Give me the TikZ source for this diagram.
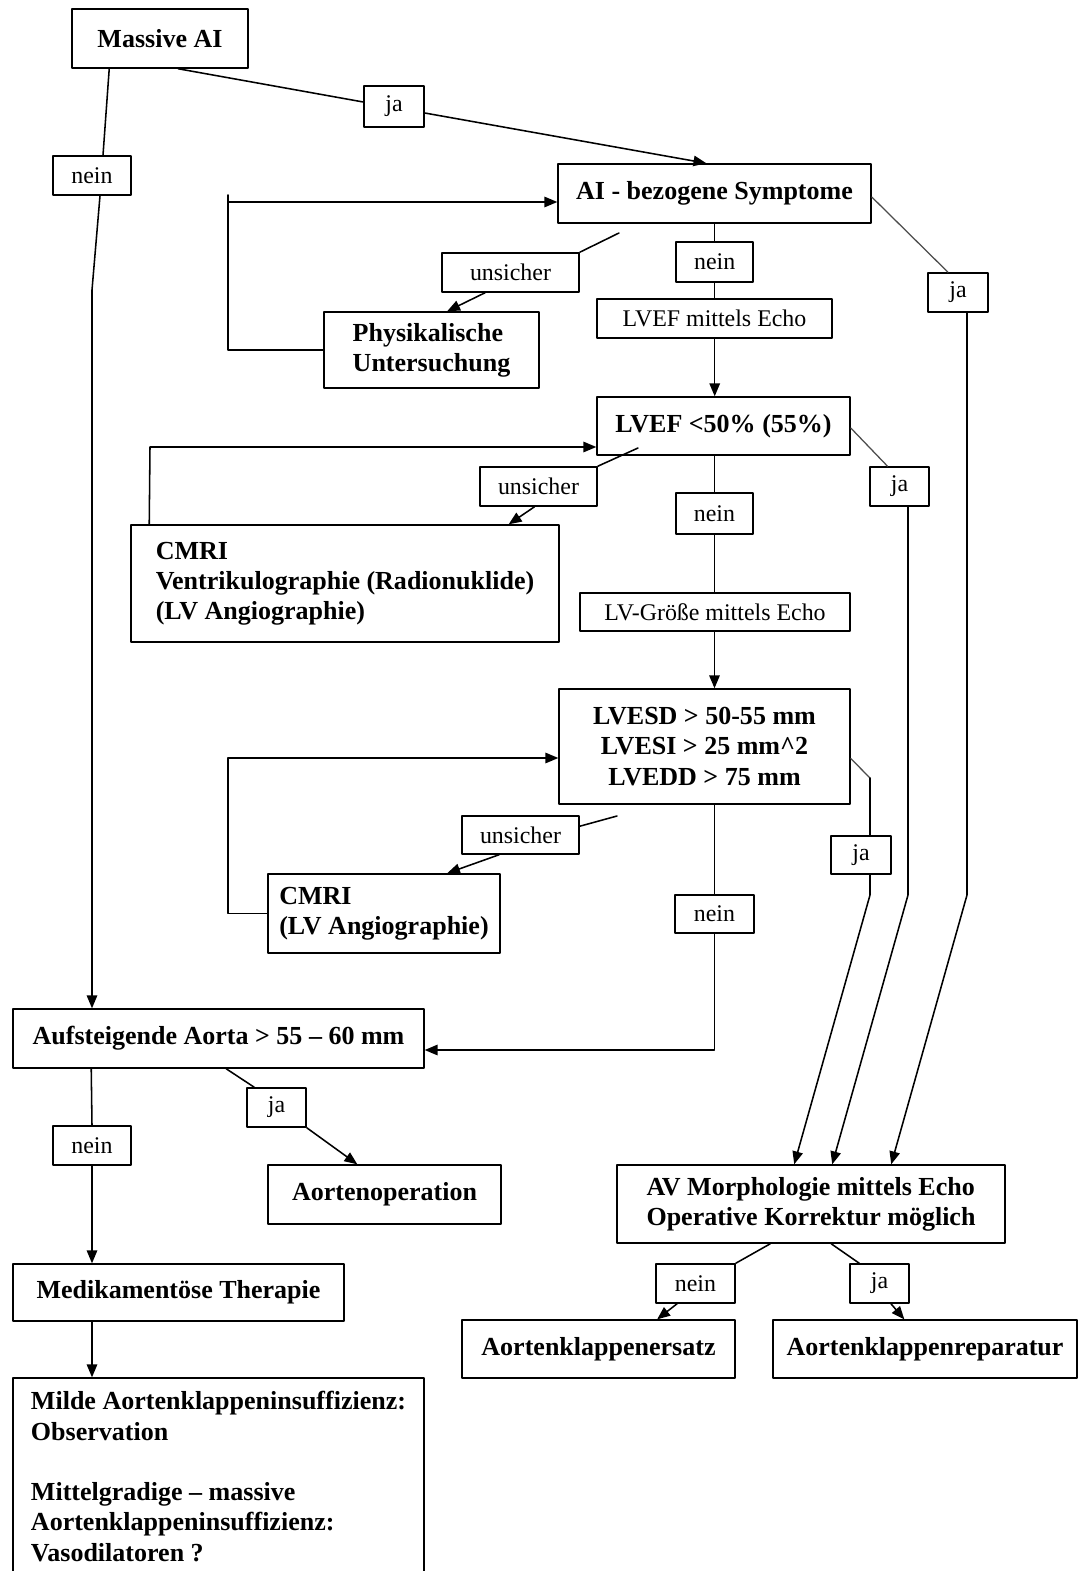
\documentclass[tikz,border=0pt]{standalone}
\usepackage{fontspec}
\setmainfont{Liberation Serif}
\usetikzlibrary{arrows,calc}

\begin{document}
\begin{tikzpicture}[x=0.025cm,y=-0.025cm,line cap=round,line join=round,>=triangle 45,
  box/.style={draw,line width=1.1pt,inner sep=0pt,align=center,font=\fontsize{18.5}{21.5}\selectfont\bfseries},
  lbl/.style={draw,line width=1.1pt,inner sep=0pt,font=\fontsize{17}{20}\selectfont},
  sz/.style 2 args={minimum width=#1*0.025cm,minimum height=#2*0.025cm},
  con/.style={line width=1.1pt},
  grey/.style={line width=0.9pt,draw=black!70}]
\useasboundingbox (0,0) rectangle (1080,1571);
\node[box,sz={176}{59}] (massive) at (160,38.5) {Massive AI};
\node[lbl,sz={60}{41}] (ja1) at (394,106.5) {ja};
\node[lbl,sz={78}{39}] (nein1) at (92,175.5) {nein};
\node[box,sz={313}{59}] (symp) at (714.5,193.5) {AI - bezogene Symptome};
\node[lbl,sz={137}{39}] (uns1) at (510.5,272.5) {unsicher};
\node[box,sz={215}{76},align=left] (phys) at (431.5,350) {Physikalische\\Untersuchung};
\node[lbl,sz={77}{40}] (nein2) at (714.7,262) {nein};
\node[lbl,sz={235}{39}] (lvefecho) at (714.5,318.5) {LVEF mittels Echo};
\node[lbl,sz={60}{39}] (ja2) at (958,292.5) {ja};
\node[box,sz={253}{58}] (lvef) at (723.5,426) {LVEF <50\% (55\%)};
\node[lbl,sz={117}{39}] (uns2) at (538.5,486.5) {unsicher};
\node[lbl,sz={77}{41}] (nein3) at (714.5,513.5) {nein};
\node[lbl,sz={59}{39}] (ja3) at (899.5,486.5) {ja};
\node[box,sz={428}{117},align=left] (cmri1) at (345,583.5) {CMRI\\Ventrikulographie (Radionuklide)\\(LV Angiographie)};
\node[lbl,sz={270}{38}] (lvgr) at (715,612) {LV-Größe mittels Echo};
\node[box,sz={291}{115}] (lvesd) at (704.5,746.5) {LVESD > 50-55 mm\\LVESI > 25 mm\textasciicircum 2\\LVEDD > 75 mm};
\node[lbl,sz={117}{38}] (uns3) at (520.5,835) {unsicher};
\node[lbl,sz={60}{38}] (ja4) at (861,855) {ja};
\node[box,sz={232}{79},align=left] (cmri2) at (384,913.5) {CMRI\\(LV Angiographie)};
\node[lbl,sz={79}{38}] (nein4) at (714.5,914) {nein};
\node[box,sz={411}{59}] (aorta) at (218.5,1038.5) {Aufsteigende Aorta > 55 – 60 mm};
\node[lbl,sz={59}{39}] (ja5) at (276.5,1107.5) {ja};
\node[lbl,sz={78}{39}] (nein5) at (92,1145.5) {nein};
\node[box,sz={233}{59}] (aortop) at (384.5,1194.5) {Aortenoperation};
\node[box,sz={388}{78},align=left] (avmorph) at (811,1204) {AV Morphologie mittels Echo\\Operative Korrektur möglich};
\node[box,sz={331}{57}] (medi) at (178.5,1292.5) {Medikamentöse Therapie};
\node[lbl,sz={79}{39}] (nein6) at (695.5,1283.5) {nein};
\node[lbl,sz={59}{39}] (ja6) at (879.5,1283.5) {ja};
\node[box,sz={273}{58}] (ersatz) at (598.5,1349) {Aortenklappenersatz};
\node[box,sz={304}{58}] (repar) at (925,1349) {Aortenklappenreparatur};
\node[box,sz={411}{197},align=left] (milde) at (218.5,1476.5) {Milde Aortenklappeninsuffizienz:\\Observation\\[21.5pt]Mittelgradige – massive\\Aortenklappeninsuffizienz:\\Vasodilatoren ?};
\coordinate (k1) at (92,290);
\coordinate (l1) at (228,195);
\coordinate (d1) at (619,233);
\coordinate (r1) at (967,895);
\coordinate (l2) at (150,447);
\coordinate (d2) at (638,448);
\coordinate (r2) at (908,895);
\coordinate (l3) at (228,758);
\coordinate (d3) at (617,816);
\coordinate (s3) at (870,778);
\coordinate (r3) at (870,895);
\coordinate (b1) at (714.5,1050);
\draw[con] ($(massive.south west)+(38,0)$) -- ($(nein1.north)+(11,0)$);
\draw[con,->] ($(nein1.south)+(8,0)$) -- (k1) -- (k1 |- aorta.north);
\draw[con] ($(massive.south west)+(107,0)$) -- ($(ja1.west)+(0,-4.5)$);
\draw[con,->] ($(ja1.east)+(0,6.5)$) -- ($(symp.north west)+(149,0)$);
\draw[con] (phys.west) -- (phys.west -| l1) -- (l1);
\draw[con,->] ($(l1)+(0,7)$) -- ($(symp.west)+(0,8.5)$);
\draw[con] (d1) -- (uns1.north east);
\draw[con,->] ($(uns1.south)+(-25.5,0)$) -- ($(phys.north west)+(124,0)$);
\draw[con] (symp.south -| nein2) -- (nein2.north);
\draw[con] (nein2.south) -- (nein2.south |- lvefecho.north);
\draw[con,->] (lvefecho.south -| nein2) -- (lvef.north -| nein2);
\draw[grey] ($(symp.east)+(0,3.5)$) -- ($(ja2.north)+(-10,0)$);
\draw[con,->] ($(ja2.south)+(9,0)$) -- (r1) -- ($(avmorph.north west)+(275,0)$);
\draw[con,->] ($(cmri1.north west)+(19,0)$) -- (l2) -- (l2 -| lvef.west);
\draw[con] (d2) -- (uns2.north east);
\draw[con,->] ($(uns2.south)+(-4,0)$) -- ($(cmri1.north east)+(-51,0)$);
\draw[con] (lvef.south -| nein3) -- (nein3.north);
\draw[con] (nein3.south) -- (nein3.south |- lvgr.north);
\draw[con,->] (lvgr.south -| nein3) -- (lvesd.north -| nein3);
\draw[grey] ($(lvef.east)+(0,2)$) -- ($(ja3.north)+(-12,0)$);
\draw[con,->] ($(ja3.south)+(8.5,0)$) -- (r2) -- ($(avmorph.north west)+(216,0)$);
\draw[con] (cmri2.west) -- (cmri2.west -| l3) -- (l3);
\draw[con,->] (l3) -- (l3 -| lvesd.west);
\draw[con] (d3) -- ($(uns3.north east)+(0,11)$);
\draw[con,->] ($(uns3.south)+(-21.5,0)$) -- ($(cmri2.north west)+(180,0)$);
\draw[grey] ($(lvesd.east)+(0,12)$) -- (s3);
\draw[con] (s3) -- (ja4.north -| s3);
\draw[con,->] (ja4.south -| s3) -- (r3) -- ($(avmorph.north west)+(178,0)$);
\draw[con] (lvesd.south -| nein4) -- (nein4.north);
\draw[con,->] (nein4.south) -- (b1) -- (b1 -| aorta.east);
\draw[con] ($(aorta.south west)+(79,0)$) -- (nein5.north);
\draw[con,->] (nein5.south) -- (nein5.south |- medi.north);
\draw[con] ($(aorta.south west)+(214,0)$) -- ($(ja5.north west)+(8,0)$);
\draw[con,->] (ja5.south east) -- ($(aortop.north west)+(90,0)$);
\draw[con,->] (medi.south -| nein5) -- (milde.north -| nein5);
\draw[con] ($(avmorph.south west)+(154,0)$) -- (nein6.north east);
\draw[con,->] ($(nein6.south)+(-18.5,0)$) -- ($(ersatz.north west)+(196,0)$);
\draw[con] ($(avmorph.south west)+(215,0)$) -- ($(ja6.north west)+(10,0)$);
\draw[con,->] ($(ja6.south)+(11.5,0)$) -- ($(repar.north west)+(132,0)$);
\end{tikzpicture}
\end{document}
